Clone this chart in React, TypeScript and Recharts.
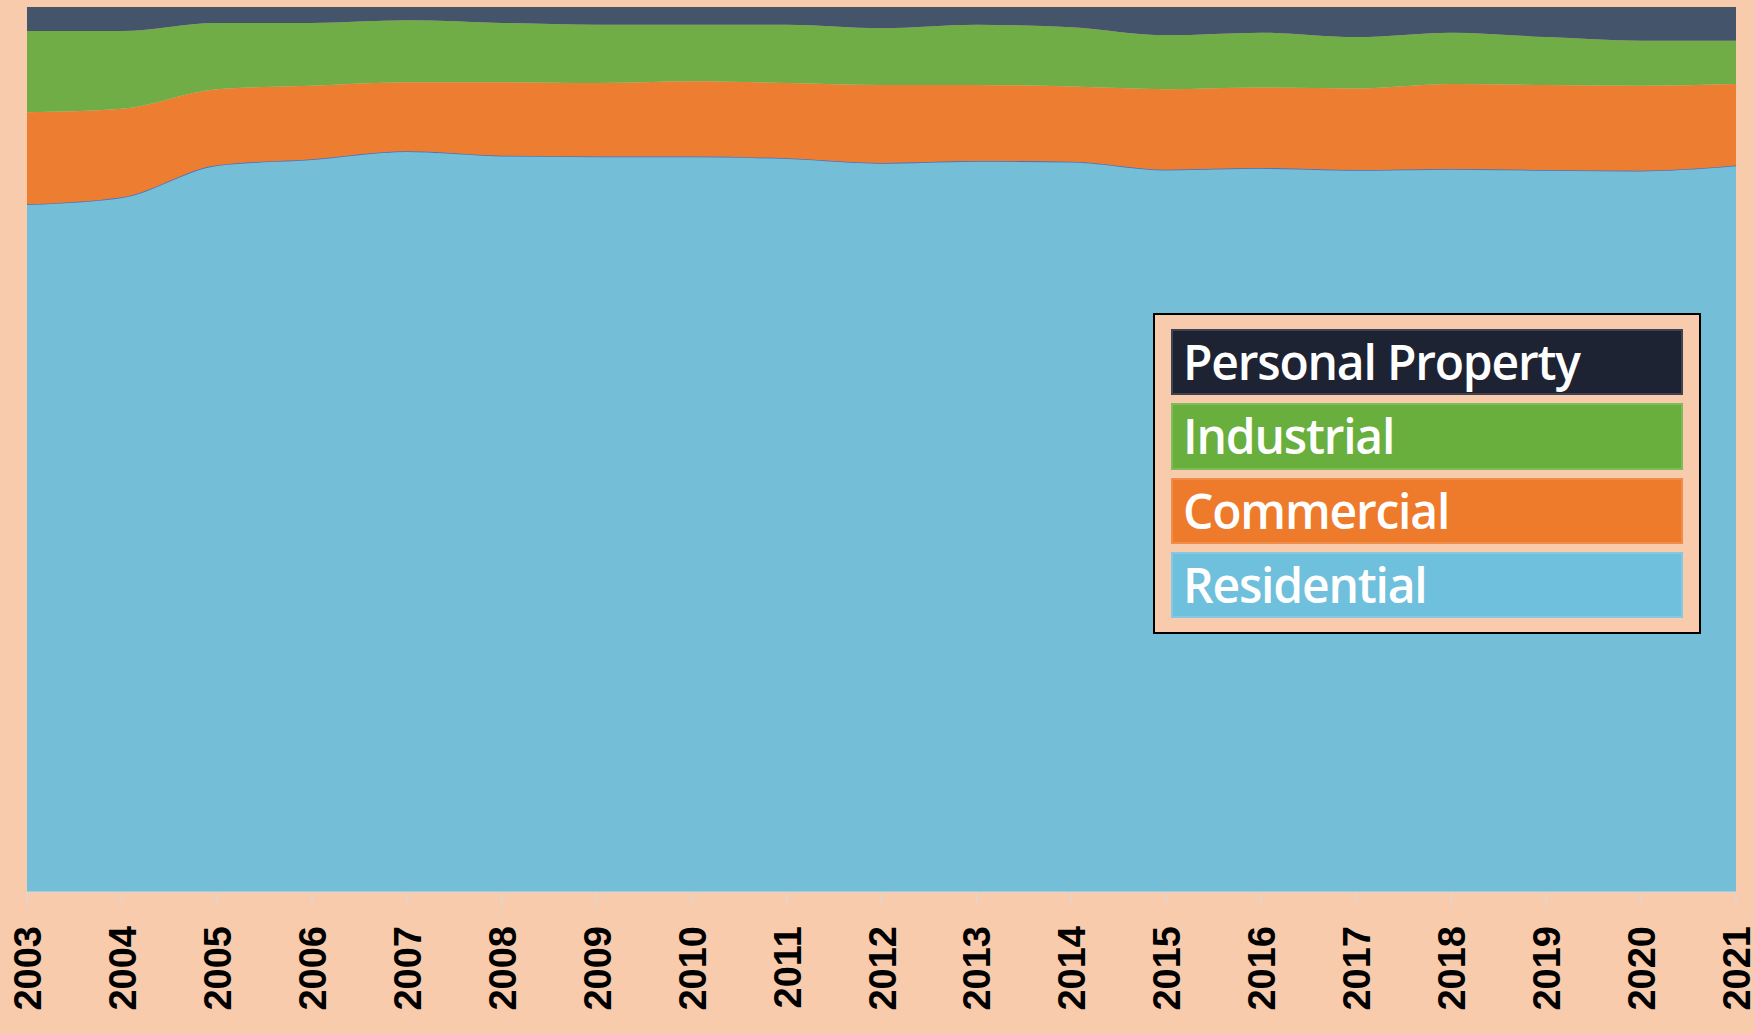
import { AreaChart, Area, XAxis, YAxis } from "recharts";

const years = [
  "2003", "2004", "2005", "2006", "2007", "2008", "2009", "2010", "2011", "2012",
  "2013", "2014", "2015", "2016", "2017", "2018", "2019", "2020", "2021",
];

// share of total (percent)
const residential = [77.7, 78.5, 82.2, 82.8, 83.7, 83.2, 83.1, 83.1, 82.9, 82.3, 82.6, 82.6, 81.7, 81.8, 81.5, 81.7, 81.5, 81.5, 82.0];
const commercial = [10.4, 10.0, 8.6, 8.3, 7.8, 8.3, 8.3, 8.5, 8.5, 8.8, 8.6, 8.5, 9.1, 9.1, 9.2, 9.6, 9.6, 9.6, 9.2];
const industrial = [9.2, 8.8, 7.5, 7.1, 7.0, 6.7, 6.6, 6.4, 6.6, 6.4, 6.8, 6.7, 6.1, 6.2, 5.8, 5.8, 5.4, 5.1, 4.9];
const personalProperty = [2.7, 2.7, 1.8, 1.8, 1.5, 1.8, 2.0, 2.0, 2.0, 2.4, 2.0, 2.3, 3.2, 2.9, 3.4, 2.9, 3.4, 3.8, 3.8];

const BG = "#F8CBAD";

// bottom to top
const SERIES = [
  { key: "residential", name: "Residential", fill: "#74BFD7", stroke: "#4472C4", legend: "#6FC0DC" },
  { key: "commercial", name: "Commercial", fill: "#ED7D31", stroke: "none", legend: "#EE7A2B" },
  { key: "industrial", name: "Industrial", fill: "#70AD47", stroke: "none", legend: "#68AF3E" },
  { key: "personal", name: "Personal Property", fill: "#44546A", stroke: "none", legend: "#1E2333" },
];

const data = years.map((year, i) => ({
  year,
  residential: residential[i],
  commercial: commercial[i],
  industrial: industrial[i],
  personal: personalProperty[i],
}));

const YearTick = (props: any) => {
  const { x, y, payload } = props;
  return (
    <text
      x={0}
      y={0}
      transform={`translate(${x + 14},${y + 18}) rotate(-90)`}
      textAnchor="end"
      fontFamily="'Liberation Sans', Arial, sans-serif"
      fontWeight="bold"
      fontSize={38}
      fill="#000"
    >
      {payload.value}
    </text>
  );
};

const LegendBox = () => {
  const rows = [...SERIES].reverse();
  return (
    <div
      style={{
        position: "absolute",
        left: 1153,
        top: 313,
        width: 548,
        height: 321,
        boxSizing: "border-box",
        border: "2px solid #000",
        background: BG,
        padding: "14px 16px 14px 16px",
        display: "flex",
        flexDirection: "column",
        gap: 8,
      }}
    >
      {rows.map((s) => (
        <div
          key={s.key}
          style={{
            flex: 1,
            background: s.legend,
            color: "#fff",
            fontFamily: "'Open Sans', 'Noto Sans', sans-serif",
            fontWeight: 600,
            fontSize: 48,
            lineHeight: 1,
            display: "flex",
            alignItems: "center",
            paddingLeft: 12,
            letterSpacing: -1.2,
            boxShadow: "inset 0 0 0 2px rgba(255,255,255,0.15)",
          }}
        >
          {s.name}
        </div>
      ))}
    </div>
  );
};

export default function App() {
  return (
    <div style={{ position: "relative", width: 1754, height: 1034, background: BG, overflow: "hidden" }}>
      <style>{`body{margin:0}`}</style>
      <AreaChart
        width={1754}
        height={1034}
        data={data}
        stackOffset="expand"
        margin={{ top: 7, right: 18, bottom: 0, left: 27 }}
      >
        <XAxis
          dataKey="year"
          interval={0}
          height={142}
          tick={<YearTick />}
          tickSize={14}
          tickLine={{ stroke: "#D9D9D9" }}
          axisLine={{ stroke: "#D9D9D9" }}
        />
        <YAxis hide domain={[0, 1]} />
        {SERIES.map((s) => (
          <Area
            key={s.key}
            type="monotone"
            dataKey={s.key}
            name={s.name}
            stackId="1"
            fill={s.fill}
            fillOpacity={1}
            stroke={s.stroke}
            strokeWidth={1.5}
            isAnimationActive={false}
          />
        ))}
      </AreaChart>
      <LegendBox />
    </div>
  );
}
